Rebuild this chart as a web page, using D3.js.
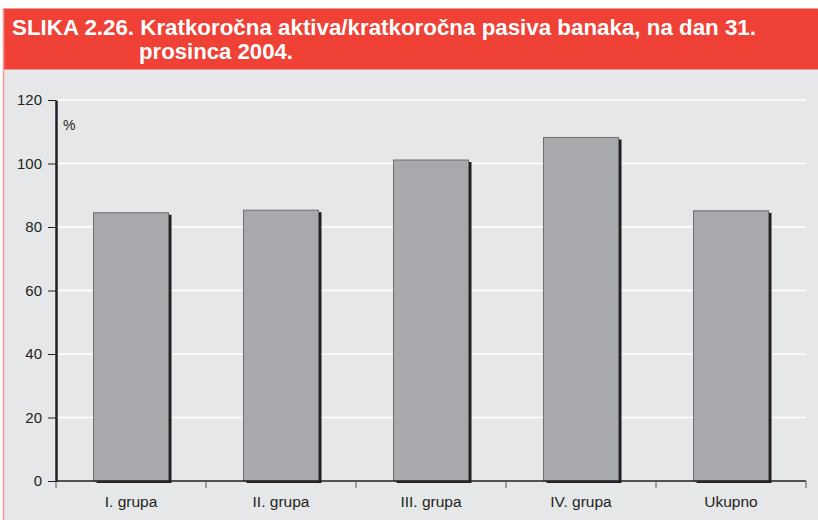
<!DOCTYPE html>
<html>
<head>
<meta charset="utf-8">
<script src="https://cdn.jsdelivr.net/npm/d3@7"></script>
<style>
  body { margin: 0; background: #fff; }
  svg { display: block; }
  .tickLabel { font-family: "Liberation Sans", Arial, sans-serif; font-size: 15px; fill: #231f20; }
</style>
</head>
<body>
<div id="chart"></div>
<script>
// chart data
var categories = ["I. grupa", "II. grupa", "III. grupa", "IV. grupa", "Ukupno"];
var values = [84.5, 85.3, 101.1, 108.2, 85.1];
var yTicks = [0, 20, 40, 60, 80, 100, 120];
var titleLines = ["SLIKA 2.26. Kratkoročna aktiva/kratkoročna pasiva banaka, na dan 31.", "prosinca 2004."];

var width = 818, height = 520;
var margin = {top: 100, right: 12, bottom: 39, left: 56};

var svg = d3.select("#chart").append("svg")
    .attr("width", width)
    .attr("height", height);

// background panel
svg.append("rect")
    .attr("x", 3).attr("y", 69)
    .attr("width", width - 3).attr("height", height - 69)
    .attr("fill", "#e6e7e8");

// red title band
svg.append("rect")
    .attr("x", 3).attr("y", 8.5)
    .attr("width", width - 3).attr("height", 61)
    .attr("fill", "#ef4136");
svg.append("line")
    .attr("x1", 3).attr("x2", width)
    .attr("y1", 8.5).attr("y2", 8.5)
    .attr("stroke", "#f49a94").attr("stroke-width", 1);
svg.append("line")
    .attr("x1", 3.5).attr("x2", 3.5)
    .attr("y1", 8).attr("y2", height)
    .attr("stroke", "#f29a94").attr("stroke-width", 1.5);

svg.append("text")
    .attr("x", 12).attr("y", 35)
    .attr("textLength", 744).attr("lengthAdjust", "spacingAndGlyphs")
    .style("font-family", "'Liberation Sans', Arial, sans-serif")
    .style("font-weight", "bold").style("font-size", "21.5px")
    .attr("fill", "#fff")
    .text(titleLines[0]);
svg.append("text")
    .attr("x", 139).attr("y", 59)
    .attr("textLength", 154).attr("lengthAdjust", "spacingAndGlyphs")
    .style("font-family", "'Liberation Sans', Arial, sans-serif")
    .style("font-weight", "bold").style("font-size", "21.5px")
    .attr("fill", "#fff")
    .text(titleLines[1]);

// scales
var x = d3.scaleBand()
    .domain(categories)
    .range([margin.left, width - margin.right])
    .paddingInner(0.5)
    .paddingOuter(0.25);

var y = d3.scaleLinear()
    .domain([0, 120])
    .range([height - margin.bottom, margin.top]);

// gridlines
svg.append("g")
  .selectAll("line")
    .data(yTicks.filter(function(d) { return d > 0; }))
  .enter().append("line")
    .attr("x1", margin.left + 1).attr("x2", width - margin.right)
    .attr("y1", function(d) { return y(d); })
    .attr("y2", function(d) { return y(d); })
    .attr("stroke", "#ffffff").attr("stroke-width", 1.5);

// bar shadows
svg.append("g")
  .selectAll("rect")
    .data(values)
  .enter().append("rect")
    .attr("x", function(d, i) { return x(categories[i]) + 3; })
    .attr("y", function(d) { return y(d) + 2; })
    .attr("width", x.bandwidth())
    .attr("height", function(d) { return y(0) - y(d); })
    .attr("fill", "#231f20");

// bars
svg.append("g")
  .selectAll("rect")
    .data(values)
  .enter().append("rect")
    .attr("x", function(d, i) { return x(categories[i]); })
    .attr("y", function(d) { return y(d); })
    .attr("width", x.bandwidth())
    .attr("height", function(d) { return y(0) - y(d); })
    .attr("fill", "#a7a9ac")
    .attr("stroke", "#6d6e71")
    .attr("stroke-width", 1);

// x axis: line with ticks at category boundaries
var bounds = d3.range(categories.length + 1).map(function(i) {
  return x.range()[0] + i * x.step();
});
var xAxis = svg.append("g");
xAxis.append("line")
    .attr("x1", margin.left).attr("x2", width - margin.right)
    .attr("y1", y(0)).attr("y2", y(0))
    .attr("stroke", "#231f20").attr("stroke-width", 1.5);
xAxis.selectAll(".xt")
    .data(bounds)
  .enter().append("line")
    .attr("x1", function(d) { return d; }).attr("x2", function(d) { return d; })
    .attr("y1", y(0)).attr("y2", y(0) + 7)
    .attr("stroke", "#58595b").attr("stroke-width", 1);
xAxis.selectAll("text")
    .data(categories)
  .enter().append("text")
    .attr("class", "tickLabel")
    .attr("x", function(d) { return x(d) + x.bandwidth() / 2; })
    .attr("y", 507)
    .attr("text-anchor", "middle")
    .style("font-size", "15.5px")
    .text(function(d) { return d; });

// y axis
var yAxis = svg.append("g")
    .attr("transform", "translate(" + margin.left + ",0)")
    .call(d3.axisLeft(y).tickValues(yTicks).tickSize(8).tickSizeOuter(0).tickPadding(6));
yAxis.select(".domain").attr("stroke", "#231f20").attr("stroke-width", 2.5);
yAxis.selectAll(".tick line").attr("stroke", "#231f20").attr("stroke-width", 1);
yAxis.selectAll(".tick text")
    .attr("class", "tickLabel")
    .style("font-family", "'Liberation Sans', Arial, sans-serif")
    .style("font-size", "15px")
    .attr("fill", "#231f20");

// unit label
svg.append("text")
    .attr("class", "tickLabel")
    .attr("x", 63).attr("y", 130)
    .style("font-size", "14px")
    .text("%");
</script>
</body>
</html>
